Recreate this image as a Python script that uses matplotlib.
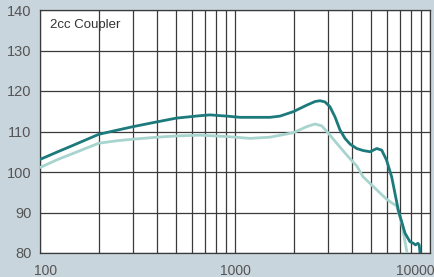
import numpy as np
import matplotlib.pyplot as plt
from matplotlib.transforms import ScaledTranslation

# frequency response (Hz, dB SPL)
freq_dark = [100, 122, 148, 200, 247, 300, 400, 500, 661, 744, 906, 1061, 1512,
             1701, 1991, 2332, 2572, 2729, 2894, 3069, 3257, 3454, 3665, 3889,
             4208, 4540, 4930, 5330, 5653, 5980, 6360, 6877, 7445, 7890, 8210,
             8430, 8670, 8800, 8890]
spl_dark = [103.1, 104.9, 106.6, 109.3, 110.3, 111.2, 112.4, 113.3, 113.9, 114.1,
            113.8, 113.5, 113.5, 113.8, 114.9, 116.5, 117.4, 117.6, 117.3, 116.1,
            113.6, 110.4, 108.3, 106.9, 105.8, 105.3, 105.0, 105.8, 105.4, 103.0,
            98.8, 90.6, 84.9, 82.8, 82.4, 82.0, 82.4, 82.0, 80.0]

freq_light = [100, 122, 148, 200, 247, 300, 400, 500, 661, 943, 1194, 1512, 1991,
              2332, 2572, 2784, 3009, 3322, 3740, 4208, 4540, 5330, 5980, 6360,
              6749, 7160, 7630]
spl_light = [101.1, 103.0, 104.6, 107.1, 107.7, 108.1, 108.6, 108.9, 109.1, 108.7,
             108.3, 108.6, 109.7, 111.2, 111.85, 111.4, 109.6, 107.1, 104.2, 101.5,
             98.8, 95.6, 93.3, 92.4, 91.6, 87.3, 80.0]

bg = '#c9d5dc'
grid_c = '#3a3a3a'

fig = plt.figure(figsize=(4.35, 2.77), dpi=100, facecolor=bg)
ax = fig.add_axes([40/435, 1-253/277, 390/435, 243/277])
ax.set_facecolor('white')

ax.plot(freq_light, spl_light, color='#a8d4cf', lw=2.0, solid_joinstyle='round',
        solid_capstyle='round', zorder=3)
ax.plot(freq_dark, spl_dark, color='#1d7a7c', lw=2.0, solid_joinstyle='round',
        solid_capstyle='round', zorder=4)

ax.set_xscale('log')
ax.set_xlim(100, 10000)
ax.set_ylim(80, 140)

ax.set_xticks([100, 1000, 10000])
ax.set_xticklabels(['100', '1000', '10000'])
ax.set_xticks([f*d for d in (100, 1000) for f in range(2, 10)], minor=True)
ax.set_yticks(range(80, 141, 10))

ax.grid(True, which='both', color=grid_c, lw=0.9)
ax.set_axisbelow(True)
for s in ax.spines.values():
    s.set_color(grid_c)
    s.set_linewidth(0.9)

ax.tick_params(which='both', length=0)
ax.tick_params(axis='x', pad=8)
ax.tick_params(axis='y', pad=6)
for lab in ax.get_yticklabels():
    lab.set_fontfamily('Liberation Sans')
    lab.set_fontsize(10.5)
    lab.set_color('#555555')
for lab in ax.get_xticklabels():
    lab.set_fontfamily('Liberation Sans')
    lab.set_fontsize(10)
    lab.set_color('#555555')

# nudge outer x labels inwards, like the original
xl = ax.get_xticklabels()
xl[0].set_transform(xl[0].get_transform() + ScaledTranslation(6/100, 0, fig.dpi_scale_trans))
xl[2].set_transform(xl[2].get_transform() + ScaledTranslation(-15/100, 0, fig.dpi_scale_trans))

ax.text(0.025, 0.94, '2cc Coupler', transform=ax.transAxes, fontsize=9.5,
        family='Liberation Sans', color='#333333', va='center', ha='left')

fig.savefig('out.png', dpi=100, facecolor=bg)
